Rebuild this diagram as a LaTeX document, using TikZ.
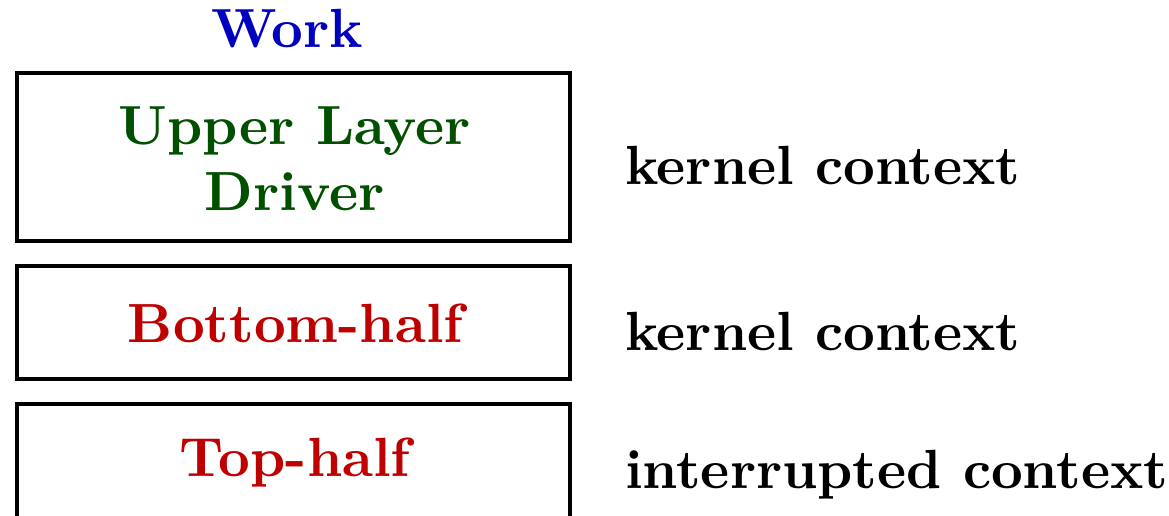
\documentclass[tikz,border=0pt]{standalone}
\usepackage{xcolor}
\definecolor{workblue}{RGB}{0,0,191}
\definecolor{drvgreen}{RGB}{0,80,0}
\definecolor{halfred}{RGB}{191,0,0}
\begin{document}
\begin{tikzpicture}[x=0.1848pt,y=-0.1848pt,
  layerbox/.style={draw,line width=0.6pt,rectangle,inner sep=0pt,minimum width=553*0.1848pt},
  boxtext/.style={anchor=base,font=\fontsize{10.2}{12.2}\selectfont\bfseries,align=center,inner sep=0pt},
  ctxtext/.style={anchor=base west,font=\fontsize{10.2}{12.2}\selectfont\bfseries,inner sep=0pt}]
\useasboundingbox (0,0) rectangle (1169,515);
\node[layerbox,minimum height=168*0.1848pt] (upper) at (293.5,157) {};
\node[layerbox,minimum height=113*0.1848pt] (bottom) at (293.5,322.5) {};
\node[layerbox,minimum height=116*0.1848pt] (top) at (293.5,462) {};
\node[boxtext,text=workblue] (work) at (287,47) {Work};
\node[boxtext,text=drvgreen] (uppert) at (294.5,144) {Upper Layer};
\node[boxtext,text=drvgreen] (drivert) at (294.5,210) {Driver};
\node[boxtext,text=halfred] (bottomt) at (295.5,342) {Bottom-half};
\node[boxtext,text=halfred] (topt) at (295,476) {Top-half};
\node[ctxtext] (ctx1) at (624,184) {kernel context};
\node[ctxtext] (ctx2) at (624,350) {kernel context};
\node[ctxtext] (ctx3) at (624,488) {interrupted context};
\end{tikzpicture}
\end{document}
